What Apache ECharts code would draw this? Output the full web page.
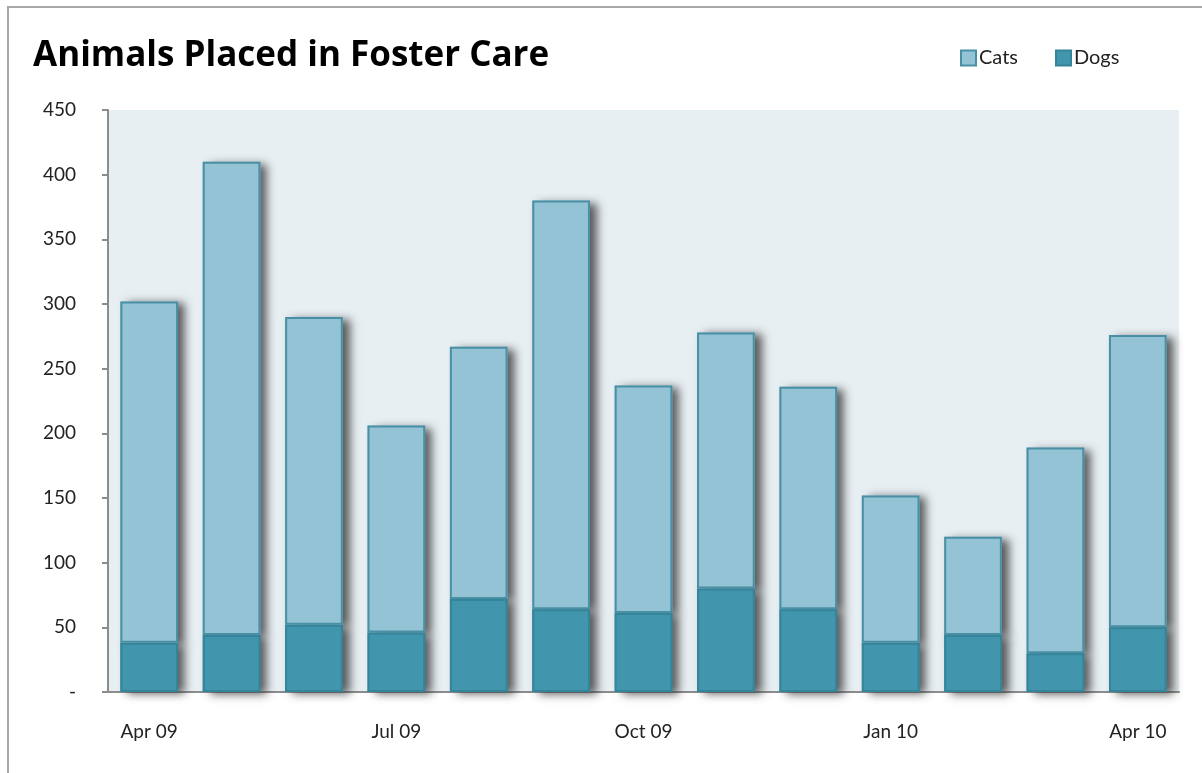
<!DOCTYPE html>
<html>
<head>
<meta charset="utf-8">
<script src="https://cdn.jsdelivr.net/npm/echarts@6/dist/echarts.min.js"></script>
<style>
	html, body { margin: 0; padding: 0; background: #ffffff; }
	#chart { width: 1202px; height: 773px; }
</style>
</head>
<body>
<div id="chart"></div>
<script>
// data
const months = ['Apr 09', 'May 09', 'Jun 09', 'Jul 09', 'Aug 09', 'Sep 09', 'Oct 09',
	'Nov 09', 'Dec 09', 'Jan 10', 'Feb 10', 'Mar 10', 'Apr 10']
const dogs = [38, 44, 52, 46, 72, 64, 61, 80, 64, 38, 44, 30, 50]
const cats = [264, 366, 238, 160, 195, 316, 176, 198, 172, 114, 76, 159, 226]
const yTicks = [0, 50, 100, 150, 200, 250, 300, 350, 400, 450]

const labelFont = 'Lato'
const shadow = {
	shadowColor: 'rgba(50, 50, 50, 0.8)',
	shadowBlur: 9,
	shadowOffsetX: 7,
	shadowOffsetY: 2
}

const myChart = echarts.init(document.getElementById('chart'))

// bars drawn twice: a plain copy underneath carries the drop shadow,
// the top copy carries the border (shadow on the stroke bleeds into the fill)
const barSeries = (name, data, color, border, stack, withShadow) => ({
	name: name,
	type: 'bar',
	stack: stack,
	barCategoryGap: '30%',
	barGap: '-100%',
	silent: withShadow,
	z: withShadow ? 1 : 2,
	data: data,
	itemStyle: withShadow
		? Object.assign({ color: color, borderWidth: 0 }, shadow)
		: { color: color, borderColor: border, borderWidth: 2 }
})

const option = {
	animation: false,
	title: {
		text: 'Animals Placed in Foster Care',
		left: 28,
		top: 34,
		textStyle: {
			fontFamily: 'Open Sans',
			fontWeight: 'bold',
			fontSize: 35,
			color: '#000000'
		}
	},
	legend: {
		left: 955,
		top: 43,
		itemWidth: 15,
		itemHeight: 15,
		itemGap: 37,
		icon: 'rect',
		textStyle: { fontFamily: labelFont, fontSize: 20, color: '#222222', padding: [0, 0, 0, -2] },
		data: ['Cats', 'Dogs']
	},
	grid: {
		left: 108,
		right: 23,
		top: 110,
		bottom: 81,
		show: true,
		backgroundColor: '#E8EFF3',
		borderWidth: 0
	},
	xAxis: {
		type: 'category',
		data: months,
		axisLine: { lineStyle: { color: '#8C8C8C', width: 2 } },
		axisTick: { interval: 0, alignWithLabel: true, length: 6, lineStyle: { color: '#8C8C8C', width: 2 } },
		axisLabel: {
			interval: 2,
			margin: 30,
			fontFamily: labelFont,
			fontSize: 19,
			color: '#222222'
		}
	},
	yAxis: {
		type: 'value',
		min: 0,
		max: 450,
		interval: 50,
		splitLine: { show: false },
		axisLine: { show: true, lineStyle: { color: '#8C8C8C', width: 2 } },
		axisTick: { show: true, length: 6, lineStyle: { color: '#8C8C8C', width: 2 } },
		axisLabel: {
			margin: 32,
			fontFamily: labelFont,
			fontSize: 19,
			color: '#222222',
			formatter: v => (yTicks.indexOf(v) === 0 ? '-' : String(v))
		}
	},
	series: [
		barSeries('Dogs shadow', dogs, '#4196AE', null, 'shadow', true),
		barSeries('Cats shadow', cats, '#93C3D5', null, 'shadow', true),
		barSeries('Dogs', dogs, '#4196AE', '#35849A', 'animals', false),
		barSeries('Cats', cats, '#93C3D5', '#4A90A5', 'animals', false)
	],
	graphic: [
		{
			type: 'rect',
			silent: true,
			z: -10,
			shape: { x: 8, y: 7, width: 1300, height: 900 },
			style: { fill: 'none', stroke: '#A8A8A8', lineWidth: 2 }
		}
	]
}

// 使用刚指定的配置项和数据显示图表。
myChart.setOption(option)
</script>
</body>
</html>
